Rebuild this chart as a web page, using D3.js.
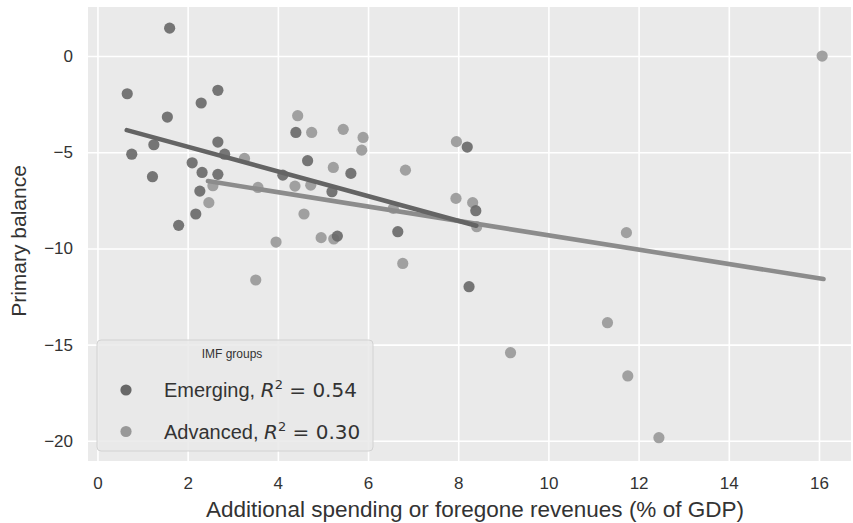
<!DOCTYPE html>
<html>
<head>
<meta charset="utf-8">
<script src="https://cdn.jsdelivr.net/npm/d3@7"></script>
<style>
  body { margin: 0; background: #ffffff; }
  svg text { font-family: "Liberation Sans", Arial, sans-serif; fill: #333333; }
</style>
</head>
<body>
<div id="chart"></div>
<script>
// Datos
const emergingX = [1.60, 0.66, 2.67, 2.30, 1.55, 2.67, 1.25, 0.76, 2.82, 2.10, 2.32, 2.67, 1.22, 4.11, 2.27, 2.18, 1.80, 4.40, 8.20, 4.66, 5.62, 5.20, 8.39, 5.32, 6.66, 8.24];
const emergingY = [1.45, -1.96, -1.78, -2.44, -3.17, -4.47, -4.61, -5.10, -5.10, -5.55, -6.05, -6.15, -6.27, -6.19, -7.02, -8.21, -8.80, -3.97, -4.73, -5.44, -6.10, -7.05, -8.04, -9.36, -9.13, -11.99];

const advancedX = [3.26, 2.56, 3.56, 2.47, 3.96, 3.51, 4.44, 4.75, 5.45, 5.89, 5.86, 7.96, 5.23, 6.83, 4.38, 4.73, 6.56, 7.95, 8.32, 4.58, 4.96, 5.24, 6.77, 8.41, 11.73, 16.07, 11.31, 9.16, 11.76, 12.45];
const advancedY = [-5.32, -6.74, -6.83, -7.62, -9.67, -11.64, -3.10, -3.97, -3.81, -4.23, -4.89, -4.45, -5.79, -5.93, -6.76, -6.71, -7.92, -7.40, -7.62, -8.21, -9.44, -9.51, -10.78, -8.87, -9.18, 0.00, -13.86, -15.42, -16.63, -19.84];

// Rectas de regresion (extremos)
const emergingFitX = [0.65, 8.40];
const emergingFitY = [-3.85, -8.82];
const advancedFitX = [2.45, 16.10];
const advancedFitY = [-6.50, -11.59];

const xTicks = [0, 2, 4, 6, 8, 10, 12, 14, 16];
const yTicks = [0, -5, -10, -15, -20];

const groups = [
    { name: "Emerging", r2: "0.54", xs: emergingX, ys: emergingY, fx: emergingFitX, fy: emergingFitY, color: "#686868", line: "#646464" },
    { name: "Advanced", r2: "0.30", xs: advancedX, ys: advancedY, fx: advancedFitX, fy: advancedFitY, color: "#989898", line: "#8c8c8c" }
];

// Dimensiones del area de dibujo
const W = 853, H = 523;
const plot = { left: 88, right: 851, top: 7, bottom: 461 };

const svg = d3.select("#chart")
    .append("svg")
        .attr("width", W)
        .attr("height", H);

const xScale = d3.scaleLinear().domain([-0.21, 16.71]).range([plot.left, plot.right]);
const yScale = d3.scaleLinear().domain([-21.05, 2.55]).range([plot.bottom, plot.top]);

// Fondo
svg.append("rect")
    .attr("x", plot.left).attr("y", plot.top)
    .attr("width", plot.right - plot.left).attr("height", plot.bottom - plot.top)
    .attr("fill", "#eaeaea");

// Rejilla
const fmt = d => d < 0 ? "\u2212" + Math.abs(d) : String(d);

svg.append("g")
    .attr("transform", `translate(0, ${plot.bottom})`)
    .call(d3.axisBottom(xScale).tickValues(xTicks).tickSize(-(plot.bottom - plot.top)).tickFormat(""));
svg.append("g")
    .attr("transform", `translate(${plot.left}, 0)`)
    .call(d3.axisLeft(yScale).tickValues(yTicks).tickSize(-(plot.right - plot.left)).tickFormat(""));
svg.selectAll(".domain").remove();
svg.selectAll(".tick line").attr("stroke", "#ffffff").attr("stroke-width", 1.6);

// Etiquetas de los ejes
const xAxis = svg.append("g")
    .attr("transform", `translate(0, ${plot.bottom})`)
    .call(d3.axisBottom(xScale).tickValues(xTicks).tickSize(0).tickPadding(16).tickFormat(fmt));
const yAxis = svg.append("g")
    .attr("transform", `translate(${plot.left}, 0)`)
    .call(d3.axisLeft(yScale).tickValues(yTicks).tickSize(0).tickPadding(15).tickFormat(fmt));
[xAxis, yAxis].forEach(a => {
    a.select(".domain").remove();
    a.selectAll("text").style("font-family", '"Liberation Sans", Arial, sans-serif')
        .style("font-size", "17px").attr("fill", "#3a3a3a");
});

svg.append("text")
    .attr("x", 475).attr("y", 517)
    .attr("text-anchor", "middle")
    .style("font-size", "22.5px")
    .text("Additional spending or foregone revenues (% of GDP)");

svg.append("text")
    .attr("transform", `translate(26, 241) rotate(-90)`)
    .attr("text-anchor", "middle")
    .style("font-size", "21px")
    .text("Primary balance");

// Puntos
groups.slice().reverse().forEach(g => {
    svg.append("g").selectAll("circle")
        .data(g.xs.map((x, i) => [x, g.ys[i]]))
        .join("circle")
            .attr("cx", d => xScale(d[0]))
            .attr("cy", d => yScale(d[1]))
            .attr("r", 5.6)
            .attr("fill", g.color)
            .attr("opacity", 0.9);
});

// Rectas
const line = d3.line().x(d => xScale(d[0])).y(d => yScale(d[1]));
groups.slice().reverse().forEach(g => {
    svg.append("path")
        .datum(g.fx.map((x, i) => [x, g.fy[i]]))
        .attr("d", line)
        .attr("fill", "none")
        .attr("stroke", g.line)
        .attr("stroke-width", 4.6)
        .attr("stroke-linecap", "round");
});

// Leyenda
const legend = svg.append("g");
legend.append("rect")
    .attr("x", 97).attr("y", 340).attr("width", 276).attr("height", 111)
    .attr("rx", 4)
    .attr("fill", "#e9e9e9").attr("fill-opacity", 0.85)
    .attr("stroke", "#d2d2d2");
legend.append("text")
    .attr("x", 232).attr("y", 358)
    .attr("text-anchor", "middle")
    .style("font-size", "12px")
    .text("IMF groups");

groups.forEach((g, i) => {
    const cy = 390 + i * 41.5;
    legend.append("circle").attr("cx", 126).attr("cy", cy).attr("r", 5.6).attr("fill", g.color);
    const t = legend.append("text").attr("x", 164).attr("y", cy + 7).style("font-size", "20px");
    t.append("tspan").text(g.name + ", ");
    t.append("tspan").style("font-family", '"DejaVu Sans", sans-serif').style("font-style", "italic").text("R");
    t.append("tspan").attr("dy", -8).style("font-family", '"DejaVu Sans", sans-serif').style("font-size", "13px").text("2");
    t.append("tspan").attr("dy", 8).style("font-family", '"DejaVu Sans", sans-serif').text(" = " + g.r2);
});
</script>
</body>
</html>
